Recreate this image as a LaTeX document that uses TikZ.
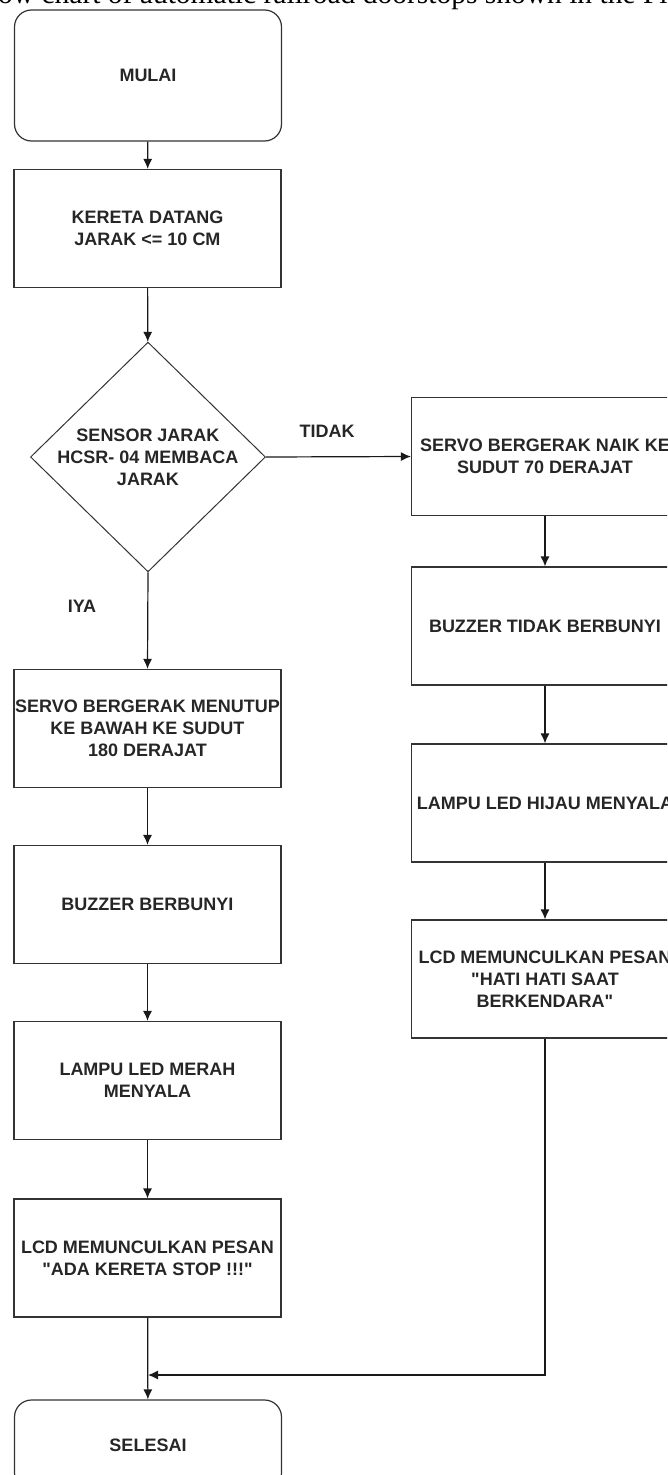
\documentclass[tikz,border=0pt]{standalone}
\usepackage{fontspec}
\setmainfont[Ligatures=TeXOff]{Liberation Sans}
\newfontfamily\capfont{Liberation Serif}
\usetikzlibrary{shapes.geometric,arrows.meta}

\begin{document}
\begin{tikzpicture}[x=1pt,y=-1pt,
   box/.style={draw=black!80,line width=1.2pt,minimum width=267pt,minimum height=118pt,
      inner sep=0pt,align=center,text=black!85,font=\fontsize{18}{22}\selectfont\bfseries},
   term/.style={box,rounded corners=17pt},
   choice/.style={box,diamond,line width=1pt,minimum width=235pt,minimum height=220pt,inner sep=-2pt},
   lbl/.style={text=black!85,font=\fontsize{18}{22}\selectfont\bfseries,inner sep=0pt},
   flow/.style={draw=black!90,line width=1.2pt,-{Latex[length=10pt,width=9pt]}}]
   \clip (0,0) rectangle (667,1475);
   \node [anchor=base west,inner sep=0pt,font=\fontsize{29.5}{30}\capfont] (caption) at (-2,3)
      {ow chart of automatic railroad doorstops shown in the Fi};
   % left column
   \node [term,minimum height=131pt] (start) at (148,75.5) {MULAI};
   \node [box] (come) at (147.5,228.5) {KERETA DATANG\\JARAK <= 10 CM};
   \node [choice] (sensor) at (148,457) {SENSOR JARAK\\HCSR- 04 MEMBACA\\JARAK};
   \node [box] (close) at (147.5,728.5) {SERVO BERGERAK MENUTUP\\KE BAWAH KE SUDUT\\180 DERAJAT};
   \node [box] (bzon) at (147.5,904.5) {BUZZER BERBUNYI};
   \node [box] (red) at (147.5,1080.5) {LAMPU LED MERAH\\MENYALA};
   \node [box] (lcdstop) at (147.5,1258) {LCD MEMUNCULKAN PESAN\\"ADA KERETA STOP !!!"};
   \node [term,minimum height=90pt] (finish) at (148,1445) {SELESAI};
   % right column
   \node [box] (naik) at (545,456.5) {SERVO BERGERAK NAIK KE\\SUDUT 70 DERAJAT};
   \node [box] (bzoff) at (545,626) {BUZZER TIDAK BERBUNYI};
   \node [box] (green) at (545,803) {LAMPU LED HIJAU MENYALA};
   \node [box] (lcdsafe) at (545,979) {LCD MEMUNCULKAN PESAN\\"HATI HATI SAAT\\BERKENDARA"};
   % connectors
   \draw [flow] (start) -- (come);
   \draw [flow] (come) -- (sensor);
   \draw [flow] (sensor.east) -- (naik.west);
   \draw [flow] (sensor.south) -- (close.north);
   \node [lbl] (no) at (327,431) {TIDAK};
   \node [lbl] (yes) at (82,606) {IYA};
   \draw [flow] (naik) -- (bzoff);
   \draw [flow] (bzoff) -- (green);
   \draw [flow] (green) -- (lcdsafe);
   \draw [flow] (close) -- (bzon);
   \draw [flow] (bzon) -- (red);
   \draw [flow] (red) -- (lcdstop);
   \draw [flow] (lcdstop) -- (finish);
   \coordinate (join) at (148,1375);
   \draw [flow] (lcdsafe.south) |- (join);
\end{tikzpicture}
\end{document}
